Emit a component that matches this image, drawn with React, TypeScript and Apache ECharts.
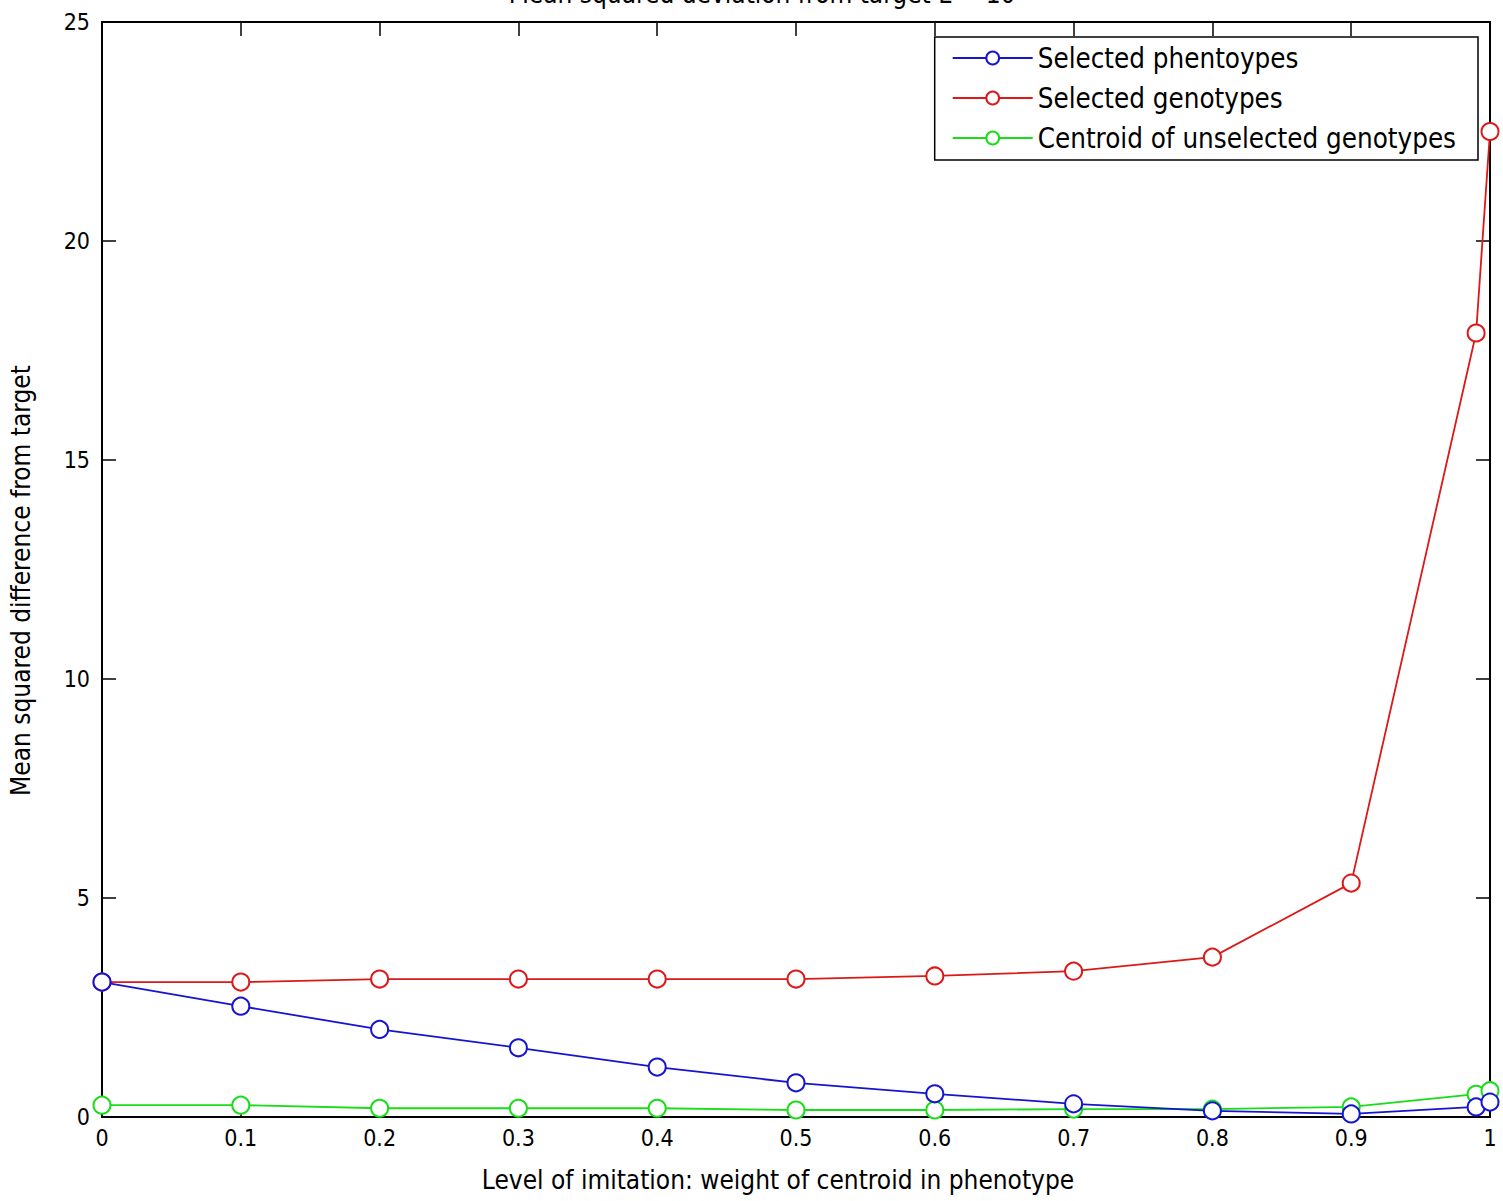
import React, { useEffect, useRef } from "react";
import * as echarts from "echarts";

const xValues = [0, 0.1, 0.2, 0.3, 0.4, 0.5, 0.6, 0.7, 0.8, 0.9, 0.99, 1];
const selectedPhenotypes = [3.08, 2.53, 2.0, 1.58, 1.14, 0.78, 0.53, 0.3, 0.14, 0.07, 0.23, 0.34];
const selectedGenotypes = [3.08, 3.08, 3.15, 3.15, 3.15, 3.15, 3.22, 3.33, 3.65, 5.34, 17.9, 22.5];
const centroidUnselected = [0.27, 0.27, 0.2, 0.2, 0.2, 0.16, 0.16, 0.18, 0.18, 0.23, 0.52, 0.6];
const seriesNames = ["Selected phentoypes", "Selected genotypes", "Centroid of unselected genotypes"];
const titleText = "Mean squared deviation from target L = 10";
const xName = "Level of imitation: weight of centroid in phenotype";
const yName = "Mean squared difference from target";

const FONT = "'DejaVu Sans Condensed', 'DejaVu Sans', sans-serif";

export default function App() {
  const ref = useRef<HTMLDivElement>(null);
  useEffect(() => {
    if (!ref.current) return;
    const chart = echarts.init(ref.current, null, { renderer: "svg" });
    const pair = (ys: number[]) => xValues.map((x, i) => [x, ys[i]]);
    const colors = ["#1515d0", "#dd1818", "#18dd18"];
    const datas = [selectedPhenotypes, selectedGenotypes, centroidUnselected];
    const axisLine = { show: true, onZero: false, lineStyle: { color: "#000", width: 2 } };
    const axisTick = { show: true, inside: true, length: 14, lineStyle: { color: "#000", width: 1.5 } };
    chart.setOption({
      animation: false,
      backgroundColor: "#fff",
      grid: { left: 100, right: 13, top: 22, bottom: 84, containLabel: false },
      graphic: [
        {
          type: "text",
          x: 762,
          y: 7,
          style: {
            text: titleText,
            font: `26px ${FONT}`,
            fill: "#000",
            align: "center",
            verticalAlign: "bottom",
          },
        },
      ],
      legend: {
        right: 25,
        top: 37,
        orient: "vertical",
        backgroundColor: "#fff",
        borderColor: "#000",
        borderWidth: 1.5,
        borderRadius: 0,
        padding: [7, 22, 8, 17],
        itemWidth: 80,
        itemHeight: 16,
        itemGap: 12,
        textStyle: { fontFamily: FONT, fontSize: 27.5, color: "#000" },
        data: seriesNames,
      },
      xAxis: [
        {
          type: "value",
          min: 0,
          max: 1,
          interval: 0.1,
          name: xName,
          nameLocation: "middle",
          nameGap: 50,
          nameTextStyle: { fontFamily: FONT, fontSize: 26, color: "#000", padding: [0, 36, 0, 0] },
          axisLine,
          axisTick,
          splitLine: { show: false },
          axisLabel: { fontFamily: FONT, fontSize: 23, color: "#000", margin: 9 },
        },
        {
          type: "value",
          position: "top",
          min: 0,
          max: 1,
          interval: 0.1,
          axisLine,
          axisTick,
          splitLine: { show: false },
          axisLabel: { show: false },
        },
      ],
      yAxis: [
        {
          type: "value",
          min: 0,
          max: 25,
          interval: 5,
          name: yName,
          nameLocation: "middle",
          nameGap: 68,
          nameTextStyle: { fontFamily: FONT, fontSize: 26, color: "#000", padding: [0, 22, 0, 0] },
          axisLine,
          axisTick,
          splitLine: { show: false },
          axisLabel: { fontFamily: FONT, fontSize: 23, color: "#000", margin: 12 },
        },
        {
          type: "value",
          position: "right",
          min: 0,
          max: 25,
          interval: 5,
          axisLine,
          axisTick,
          splitLine: { show: false },
          axisLabel: { show: false },
        },
      ],
      series: seriesNames.map((name, i) => ({
        name,
        type: "line",
        data: pair(datas[i]),
        xAxisIndex: 0,
        yAxisIndex: 0,
        symbol: "emptyCircle",
        symbolSize: 17,
        showAllSymbol: true,
        color: colors[i],
        lineStyle: { color: colors[i], width: 1.8 },
        itemStyle: { color: colors[i], borderColor: colors[i], borderWidth: 1.8 },
        z: 3 - i,
      })),
    });
    return () => chart.dispose();
  }, []);
  return (
    <div
      ref={ref}
      style={{ position: "absolute", left: 0, top: 0, width: 1503, height: 1201 }}
    />
  );
}
